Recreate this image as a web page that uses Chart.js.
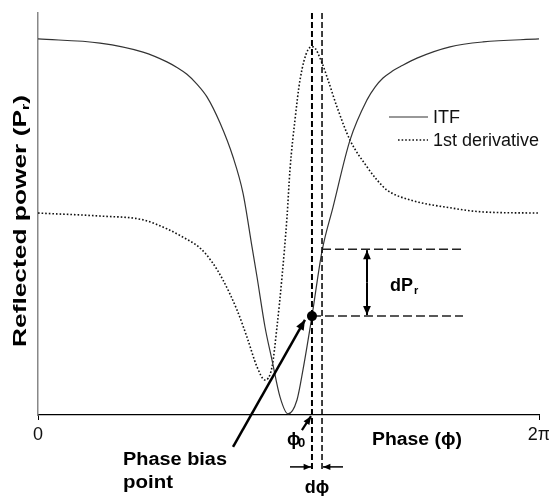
<!DOCTYPE html>
<html>
<head>
<meta charset="utf-8">
<script src="https://cdn.jsdelivr.net/npm/chart.js@4.4.1/dist/chart.umd.min.js"></script>
<style>
  html, body { margin: 0; padding: 0; background: #fff; }
  #wrap { width: 549px; height: 496px; }
</style>
</head>
<body>
<div id="wrap"><canvas id="itfChart" width="549" height="496"></canvas></div>
<script>
// phase values in radians (0 .. 2pi), power in arbitrary units (ITF max = 1)
const itfPhase = [0, 0.778, 1.317, 1.617, 1.743, 1.868, 1.993, 2.119, 2.282, 2.446, 2.571, 2.684, 2.747, 2.847, 2.935, 3.035, 3.135, 3.248, 3.323, 3.436, 3.562, 3.700, 3.913, 4.126, 4.227, 4.327, 4.440, 4.540, 4.753, 5.167, 5.581, 6.283];
const itfPower = [1.000, 0.989, 0.965, 0.939, 0.924, 0.906, 0.880, 0.846, 0.777, 0.686, 0.590, 0.447, 0.367, 0.234, 0.146, 0.048, 0.003, 0.040, 0.120, 0.263, 0.436, 0.553, 0.731, 0.838, 0.872, 0.896, 0.914, 0.926, 0.949, 0.979, 0.992, 1.000];

const derivPhase = [0, 0.778, 1.317, 1.617, 1.818, 2.032, 2.182, 2.320, 2.496, 2.621, 2.747, 2.847, 2.935, 2.997, 3.060, 3.123, 3.160, 3.223, 3.286, 3.386, 3.449, 3.562, 3.637, 3.750, 3.913, 4.126, 4.252, 4.377, 4.665, 5.167, 5.581, 6.283];
const derivValue = [0.537, 0.529, 0.519, 0.495, 0.473, 0.444, 0.407, 0.359, 0.279, 0.207, 0.128, 0.093, 0.128, 0.234, 0.367, 0.527, 0.652, 0.785, 0.891, 0.971, 0.979, 0.936, 0.891, 0.819, 0.731, 0.660, 0.625, 0.598, 0.572, 0.551, 0.540, 0.537];

const xTickValues = [0, 2 * Math.PI];
const xTickLabels = ['0', '2\u03C0'];

// bias point annotation
const biasPhase = 3.436;
const deltaPhase = 0.126;
const biasPower = 0.263;
const upperPower = 0.441;
const guideEndPhase = 5.33;
const dPrArrowPhase = 4.126;

const itfData = itfPhase.map((p, i) => ({x: p, y: itfPower[i]}));
const derivData = derivPhase.map((p, i) => ({x: p, y: derivValue[i]}));

const SANS = '"Liberation Sans", Arial, sans-serif';

function arrowHead(ctx, x1, y1, x2, y2, size) {
  const a = Math.atan2(y2 - y1, x2 - x1);
  ctx.beginPath();
  ctx.moveTo(x2, y2);
  ctx.lineTo(x2 - size * Math.cos(a - 0.4), y2 - size * Math.sin(a - 0.4));
  ctx.lineTo(x2 - size * Math.cos(a + 0.4), y2 - size * Math.sin(a + 0.4));
  ctx.closePath();
  ctx.fill();
}

function arrow(ctx, x1, y1, x2, y2, w, size) {
  ctx.lineWidth = w;
  ctx.setLineDash([]);
  ctx.beginPath();
  ctx.moveTo(x1, y1);
  ctx.lineTo(x2, y2);
  ctx.stroke();
  arrowHead(ctx, x1, y1, x2, y2, size);
}

// text stretched horizontally to a given width (reference font is wide)
function wideText(ctx, txt, x, y, width) {
  const w = ctx.measureText(txt).width;
  ctx.save();
  ctx.translate(x, y);
  ctx.scale(width / w, 1);
  ctx.fillText(txt, 0, 0);
  ctx.restore();
}

const annotations = {
  id: 'annotations',
  afterDatasetsDraw(chart) {
    const {ctx, chartArea, scales: {x, y}} = chart;
    ctx.save();
    ctx.strokeStyle = '#000';
    ctx.fillStyle = '#000';

    const x0 = x.getPixelForValue(biasPhase);
    const x1 = x.getPixelForValue(biasPhase + deltaPhase);
    const yBias = y.getPixelForValue(biasPower);
    const yUp = y.getPixelForValue(upperPower);
    const xEnd = x.getPixelForValue(guideEndPhase);
    const yLow = y.getPixelForValue(-0.148);

    // vertical dashed guides
    ctx.setLineDash([6, 3]);
    ctx.lineWidth = 2;
    ctx.beginPath();
    ctx.moveTo(x0, chartArea.top);
    ctx.lineTo(x0, yLow);
    ctx.stroke();
    ctx.lineWidth = 1.5;
    ctx.beginPath();
    ctx.moveTo(x1, chartArea.top);
    ctx.lineTo(x1, yLow);
    ctx.stroke();

    // horizontal dashed guides
    ctx.strokeStyle = '#222';
    ctx.setLineDash([9, 4]);
    ctx.lineWidth = 1.5;
    ctx.beginPath();
    ctx.moveTo(x0, yBias);
    ctx.lineTo(xEnd, yBias);
    ctx.moveTo(x1, yUp);
    ctx.lineTo(xEnd, yUp);
    ctx.stroke();

    // dPr double arrow
    ctx.strokeStyle = '#000';
    const xa = x.getPixelForValue(dPrArrowPhase);
    arrow(ctx, xa, (yUp + yBias) / 2, xa, yUp + 1, 2, 10);
    arrow(ctx, xa, (yUp + yBias) / 2, xa, yBias - 1, 2, 10);

    // bias point
    ctx.beginPath();
    ctx.arc(x0, yBias, 5, 0, Math.PI * 2);
    ctx.fill();

    // arrow from label to bias point
    arrow(ctx, x.getPixelForValue(2.446), y.getPixelForValue(-0.085),
      x.getPixelForValue(3.348), y.getPixelForValue(0.253), 2.5, 11);

    // phi0 arrow
    arrow(ctx, x.getPixelForValue(3.310), y.getPixelForValue(-0.04),
      x.getPixelForValue(3.424), y.getPixelForValue(-0.003), 2.2, 9);

    // dphi arrows
    const yd = y.getPixelForValue(-0.138);
    arrow(ctx, x.getPixelForValue(3.160), yd, x0 - 1, yd, 1.5, 8);
    arrow(ctx, x.getPixelForValue(3.825), yd, x1 + 1, yd, 1.5, 8);

    // texts
    ctx.textBaseline = 'alphabetic';
    ctx.textAlign = 'left';
    ctx.font = 'bold 18px ' + SANS;
    ctx.fillText('dP', xa + 23, yBias - 25);
    const wdp = ctx.measureText('dP').width;
    ctx.font = 'bold 11px ' + SANS;
    ctx.fillText('r', xa + 23 + wdp + 1, yBias - 22);

    ctx.font = 'bold 18px ' + SANS;
    ctx.fillText('\u03D5', x0 - 25, y.getPixelForValue(-0.08));
    ctx.font = 'bold 13px ' + SANS;
    ctx.fillText('0', x0 - 14, y.getPixelForValue(-0.085));

    ctx.font = 'bold 18px ' + SANS;
    ctx.textAlign = 'center';
    ctx.fillText('d\u03D5', (x0 + x1) / 2, 493);
    ctx.textAlign = 'left';

    wideText(ctx, 'Phase (\u03D5)', 372, 445, 90);
    wideText(ctx, 'Phase bias', 123, 465, 104);
    wideText(ctx, 'point', 123, 488, 50);

    // y axis title
    ctx.save();
    ctx.translate(26, 347);
    ctx.rotate(-Math.PI / 2);
    ctx.font = 'bold 18px ' + SANS;
    const t1 = 'Reflected power (P';
    const w1 = ctx.measureText(t1).width;
    ctx.font = 'bold 11px ' + SANS;
    const w2 = ctx.measureText('r').width;
    ctx.font = 'bold 18px ' + SANS;
    const w3 = ctx.measureText(')').width;
    ctx.scale(252 / (w1 + w2 + w3), 1);
    ctx.fillText(t1, 0, 0);
    ctx.font = 'bold 11px ' + SANS;
    ctx.fillText('r', w1, 3);
    ctx.font = 'bold 18px ' + SANS;
    ctx.fillText(')', w1 + w2, 0);
    ctx.restore();

    // legend
    const ds = chart.data.datasets;
    const legY = [117, 140];
    const legX0 = [389, 398];
    ds.forEach((d, i) => {
      ctx.strokeStyle = d.borderColor;
      ctx.lineWidth = d.borderWidth;
      ctx.setLineDash(d.borderDash || []);
      ctx.beginPath();
      ctx.moveTo(legX0[i], legY[i]);
      ctx.lineTo(428, legY[i]);
      ctx.stroke();
      ctx.setLineDash([]);
      ctx.fillStyle = '#111';
      ctx.font = '18px ' + SANS;
      ctx.textBaseline = 'middle';
      ctx.fillText(d.label, 433, legY[i] + 1);
    });
    ctx.restore();
  }
};

new Chart(document.getElementById('itfChart'), {
  type: 'line',
  data: {
    datasets: [{
      label: 'ITF',
      data: itfData,
      borderColor: '#333',
      borderWidth: 1.2,
      pointRadius: 0,
      cubicInterpolationMode: 'monotone',
      fill: false
    }, {
      label: '1st derivative',
      data: derivData,
      borderColor: '#111',
      borderWidth: 1.6,
      borderDash: [1.6, 2],
      pointRadius: 0,
      cubicInterpolationMode: 'monotone',
      fill: false
    }]
  },
  options: {
    responsive: false,
    animation: false,
    layout: {
      autoPadding: false,
      padding: {left: 38, right: 10, top: 13, bottom: 52}
    },
    plugins: {
      legend: {display: false},
      tooltip: {enabled: false}
    },
    scales: {
      x: {
        type: 'linear',
        min: 0,
        max: 2 * Math.PI,
        afterBuildTicks(scale) {
          scale.ticks = xTickValues.map(v => ({value: v}));
        },
        afterFit(scale) {
          scale.height = 29;
          scale.paddingLeft = 0;
          scale.paddingRight = 0;
          scale.paddingTop = 0;
          scale.paddingBottom = 0;
        },
        ticks: {
          autoSkip: false,
          maxRotation: 0,
          padding: 4,
          color: '#111',
          font: {family: SANS, size: 18},
          callback(v) {
            const i = xTickValues.indexOf(v);
            return i >= 0 ? xTickLabels[i] : '';
          }
        },
        grid: {display: true, drawOnChartArea: false, tickLength: 5, color: '#000'},
        border: {display: true, color: '#000', width: 1.2}
      },
      y: {
        min: 0,
        max: 1.069,
        afterFit(scale) {
          scale.width = 0;
          scale.paddingTop = 0;
          scale.paddingBottom = 0;
        },
        ticks: {display: false},
        grid: {display: false, drawTicks: false},
        border: {display: true, color: '#888', width: 1.5}
      }
    }
  },
  plugins: [annotations]
});
</script>
</body>
</html>
